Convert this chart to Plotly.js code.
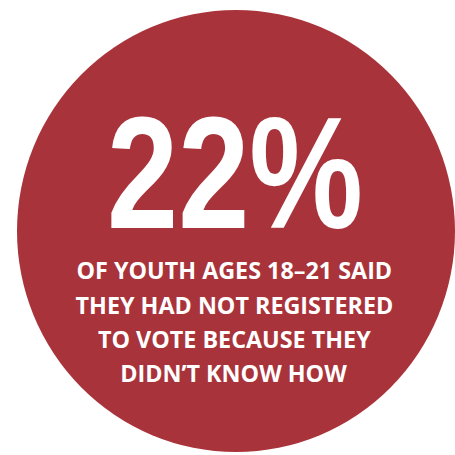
<!DOCTYPE html>
<html>
<head>
<meta charset="utf-8">
<script src="https://cdn.plot.ly/plotly-3.0.1.min.js"></script>
<style>html,body{margin:0;padding:0;background:#fff;}#chart{width:455px;height:455px;}</style>
</head>
<body>
<div id="chart"></div>
<script>
// Data
var statValue = 22;            // percent of youth ages 18-21
var statSuffix = "%";
var captionLines = [
  "OF YOUTH AGES 18–21 SAID",
  "THEY HAD NOT REGISTERED",
  "TO VOTE BECAUSE THEY",
  "DIDN’T KNOW HOW"
];

// Layout / styling
var W = 455, H = 455;
var red = "#a9333a";
var centerX = 234;
var bigY = 172.5;
var captionY = [269.7, 304.2, 338.7, 372.7];
var bigFont = "'Liberation Sans', Arial, sans-serif";
var capFont = "'Open Sans', 'Noto Sans', sans-serif";
var bigTargetWidth = 256;   // visual width of the big number (px)
var capTargetWidth = 318;   // visual width of the widest caption line (px)

var annotations = [{
  x: centerX + 1, y: bigY, xref: "x", yref: "y",
  text: "<b>" + statValue + statSuffix + "</b>",
  showarrow: false, xanchor: "center", yanchor: "middle",
  font: {family: bigFont, size: 160, color: "#ffffff"}
}];
captionLines.forEach(function (t, i) {
  annotations.push({
    x: centerX, y: captionY[i], xref: "x", yref: "y",
    text: "<b>" + t + "</b>",
    showarrow: false, xanchor: "center", yanchor: "middle",
    font: {family: capFont, size: 24, color: "#ffffff"}
  });
});

var layout = {
  width: W, height: H,
  margin: {l: 0, r: 0, t: 0, b: 0, pad: 0},
  paper_bgcolor: "#ffffff", plot_bgcolor: "#ffffff",
  xaxis: {range: [0, W], visible: false, fixedrange: true},
  yaxis: {range: [H, 0], visible: false, fixedrange: true},
  showlegend: false,
  shapes: [{
    type: "circle", xref: "x", yref: "y",
    x0: 17, x1: 455, y0: 10, y1: 452,
    fillcolor: red, line: {width: 0}, layer: "below"
  }],
  annotations: annotations
};

function condense(textEl, s) {
  var bb = textEl.getBBox();
  var cx = bb.x + bb.width / 2;
  textEl.setAttribute("transform",
    "translate(" + cx + ",0) scale(" + s + ",1) translate(" + (-cx) + ",0)");
}

Plotly.newPlot("chart", [{x: [], y: [], type: "scatter", mode: "markers", hoverinfo: "skip"}],
  layout, {staticPlot: true, displayModeBar: false}).then(function (gd) {
  var texts = gd.querySelectorAll(".annotation-text");
  if (!texts.length) return;
  // big number
  var bigW = texts[0].getBBox().width;
  condense(texts[0], bigTargetWidth / bigW);
  // captions share one horizontal scale, based on the widest line
  var maxW = 0;
  for (var i = 1; i < texts.length; i++) maxW = Math.max(maxW, texts[i].getBBox().width);
  var s = Math.min(1, capTargetWidth / maxW);
  for (var j = 1; j < texts.length; j++) condense(texts[j], s);
});
</script>
</body>
</html>
